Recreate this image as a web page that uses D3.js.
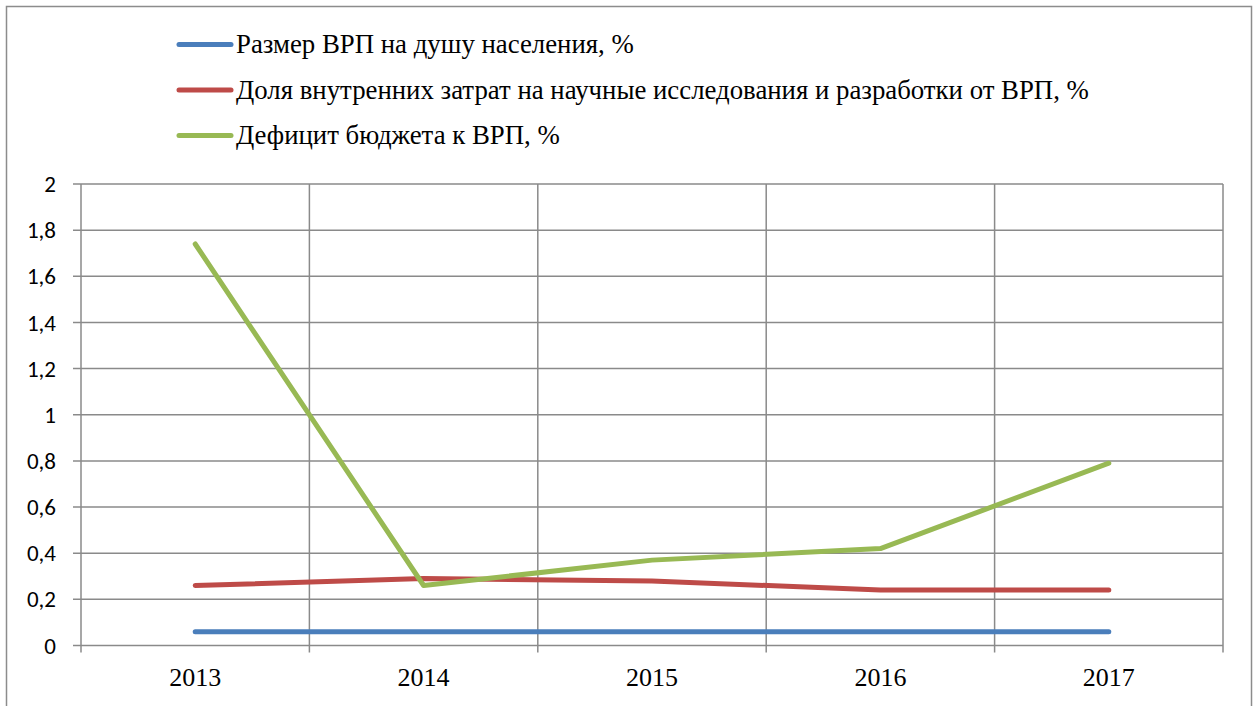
<!DOCTYPE html>
<html>
<head>
<meta charset="utf-8">
<script src="https://cdn.jsdelivr.net/npm/d3@7"></script>
<style>
  body { margin: 0; background: #fff; overflow: hidden; }
  svg { display: block; }
</style>
</head>
<body>
<svg id="chart"></svg>
<script>
const years = ["2013", "2014", "2015", "2016", "2017"];
const grpPerCapita = [0.06, 0.06, 0.06, 0.06, 0.06];
const rndShare = [0.26, 0.29, 0.28, 0.24, 0.24];
const budgetDeficit = [1.74, 0.26, 0.37, 0.42, 0.79];
const yTicks = [0, 0.2, 0.4, 0.6, 0.8, 1, 1.2, 1.4, 1.6, 1.8, 2];

const series = [
  { name: "Размер ВРП на душу населения, %", values: grpPerCapita, color: "#4A7EBB" },
  { name: "Доля внутренних затрат на научные исследования и разработки от ВРП, %", values: rndShare, color: "#BE4B48" },
  { name: "Дефицит бюджета к ВРП, %", values: budgetDeficit, color: "#98B954" }
];

const serifFont = '"Liberation Serif"';
const sansFont = 'Carlito, "Open Sans", sans-serif';

const W = 1259, H = 706;
const svg = d3.select("#chart").attr("width", W).attr("height", H);

// outer frame
svg.append("rect")
  .attr("x", 6.5).attr("y", 6.5)
  .attr("width", 1245).attr("height", 710)
  .attr("fill", "none").attr("stroke", "#8c8c8c").attr("stroke-width", 1.5);

const plotLeft = 81, plotRight = 1223, plotTop = 184, plotBottom = 645.5;

const x = d3.scaleBand().domain(years).range([plotLeft, plotRight]);
const y = d3.scaleLinear().domain([0, 2]).range([plotBottom, plotTop]);

const gridColor = "#8a8a8a";

// horizontal gridlines
svg.append("g")
  .selectAll("line")
  .data(yTicks)
  .join("line")
    .attr("x1", plotLeft - 8).attr("x2", plotRight)
    .attr("y1", d => y(d)).attr("y2", d => y(d))
    .attr("stroke", gridColor).attr("stroke-width", 1.5);

// vertical gridlines at band edges
const edges = years.map(d => x(d)).concat([plotRight]);
svg.append("g")
  .selectAll("line")
  .data(edges)
  .join("line")
    .attr("x1", d => d).attr("x2", d => d)
    .attr("y1", plotTop).attr("y2", plotBottom + 7)
    .attr("stroke", gridColor).attr("stroke-width", 1.5);

// y labels
svg.append("g")
  .selectAll("text")
  .data(yTicks)
  .join("text")
    .attr("x", 56).attr("y", d => y(d))
    .attr("dy", "0.35em")
    .attr("text-anchor", "end")
    .style("font-family", sansFont)
    .style("font-size", "23px")
    .attr("fill", "#000")
    .text(d => String(d).replace(".", ","));

// x labels
svg.append("g")
  .selectAll("text")
  .data(years)
  .join("text")
    .attr("x", d => x(d) + x.bandwidth() / 2)
    .attr("y", 686)
    .attr("text-anchor", "middle")
    .style("font-family", serifFont)
    .style("font-size", "26px")
    .attr("fill", "#000")
    .text(d => d);

// lines
const line = d3.line()
  .x((d, i) => x(years[i]) + x.bandwidth() / 2)
  .y(d => y(d));

svg.append("g")
  .selectAll("path")
  .data(series)
  .join("path")
    .attr("d", d => line(d.values))
    .attr("fill", "none")
    .attr("stroke", d => d.color)
    .attr("stroke-width", 5)
    .attr("stroke-linecap", "round")
    .attr("stroke-linejoin", "round");

// legend
const legend = svg.append("g")
  .selectAll("g")
  .data(series)
  .join("g")
    .attr("transform", (d, i) => `translate(0, ${44.5 + i * 45.5})`);

legend.append("line")
  .attr("x1", 179).attr("x2", 231)
  .attr("y1", 0).attr("y2", 0)
  .attr("stroke", d => d.color)
  .attr("stroke-width", 5)
  .attr("stroke-linecap", "round");

legend.append("text")
  .attr("x", 236).attr("y", 0)
  .attr("dy", "0.33em")
  .style("font-family", serifFont)
  .style("font-size", "26.8px")
  .attr("fill", "#000")
  .text(d => d.name);
</script>
</body>
</html>
